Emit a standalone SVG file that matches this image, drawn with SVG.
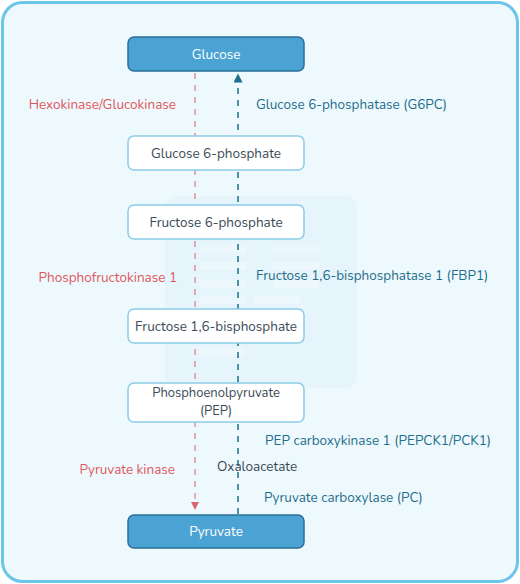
<svg xmlns="http://www.w3.org/2000/svg" width="520" height="584" viewBox="0 0 520 584">
<defs>
<style>
text{font-family:"Nunito","Open Sans","Noto Sans",sans-serif;font-size:13.5px}
.box{fill:#ffffff;stroke:#8ccbe8;stroke-width:1.5}
.key{fill:#4aa3d3;stroke:#2b6f95;stroke-width:1.5}
.lbl{fill:#3b4a58;text-anchor:middle}
.sm{font-size:13px}
.klbl{fill:#ffffff;text-anchor:middle}
.red{fill:#e0575b}
.teal{fill:#1e6d8a}
.dark{fill:#3b4a58}
.fwd{stroke:#d9646a;stroke-width:1;stroke-dasharray:6 6;fill:none}
.rev{stroke:#1e6d8a;stroke-width:1.5;stroke-dasharray:6 6;fill:none}
.wm{fill:#ffffff;opacity:0.3}
</style>
<marker id="ar" markerWidth="8" markerHeight="8" refX="4" refY="4" orient="auto" markerUnits="userSpaceOnUse">
<path d="M0,0 L8,4 L0,8 z" fill="#d9646a"/>
</marker>
<marker id="at" markerWidth="9" markerHeight="9" refX="4.5" refY="4.5" orient="auto" markerUnits="userSpaceOnUse">
<path d="M0,0 L9,4.5 L0,9 z" fill="#1e6d8a"/>
</marker>
</defs>
<rect x="2.5" y="2.5" width="515" height="579" rx="20" fill="#eef9fe" stroke="#6cc5e9" stroke-width="3"/>
<g id="watermark">
<rect x="165" y="196" width="192" height="192" rx="12" fill="#e6f5fc"/>
<rect class="wm" x="200" y="245" width="46" height="8"/>
<rect class="wm" x="273" y="245" width="46" height="8"/>
<rect class="wm" x="200" y="262" width="46" height="8"/>
<rect class="wm" x="273" y="262" width="46" height="8"/>
<rect class="wm" x="200" y="280" width="46" height="8"/>
<rect class="wm" x="273" y="280" width="46" height="8"/>
<rect class="wm" x="200" y="296" width="46" height="8"/>
<rect class="wm" x="254" y="296" width="46" height="8"/>
<rect class="wm" x="200" y="348" width="46" height="8"/>
</g>
<g id="connectors">
<line class="fwd" x1="195" y1="73" x2="195" y2="506" marker-end="url(#ar)"/>
<line class="rev" x1="238" y1="514" x2="238" y2="78" marker-end="url(#at)"/>
</g>
<g id="glucose"><rect class="key" x="128" y="37" width="176" height="34" rx="6"/><text class="klbl" x="216" y="58.5">Glucose</text></g>
<g id="g6p"><rect class="box" x="128" y="136" width="176" height="34" rx="6"/><text class="lbl" x="216" y="157.5">Glucose 6-phosphate</text></g>
<g id="f6p"><rect class="box" x="128" y="205" width="176" height="34" rx="6"/><text class="lbl" x="216" y="226.5">Fructose 6-phosphate</text></g>
<g id="f16bp"><rect class="box" x="128" y="309" width="176" height="34" rx="6"/><text class="lbl" x="216" y="330.5">Fructose 1,6-bisphosphate</text></g>
<g id="pep"><rect class="box" x="128" y="383" width="176" height="39" rx="6"/><text class="lbl sm" x="216" y="396.5">Phosphoenolpyruvate</text><text class="lbl sm" x="216" y="415">(PEP)</text></g>
<g id="pyruvate"><rect class="key" x="128" y="515" width="176" height="33" rx="6"/><text class="klbl" x="216" y="535.5">Pyruvate</text></g>
<g id="labels">
<text class="red" x="176" y="108.5" text-anchor="end">Hexokinase/Glucokinase</text>
<text class="teal" x="256" y="108.5">Glucose 6-phosphatase (G6PC)</text>
<text class="red" x="177" y="281.5" text-anchor="end">Phosphofructokinase 1</text>
<text class="teal" x="256" y="279.5">Fructose 1,6-bisphosphatase 1 (FBP1)</text>
<text class="teal" x="265" y="444.5">PEP carboxykinase 1 (PEPCK1/PCK1)</text>
<text class="dark" x="217" y="471">Oxaloacetate</text>
<text class="red" x="175" y="473.5" text-anchor="end">Pyruvate kinase</text>
<text class="teal" x="264" y="502">Pyruvate carboxylase (PC)</text>
</g>
</svg>
